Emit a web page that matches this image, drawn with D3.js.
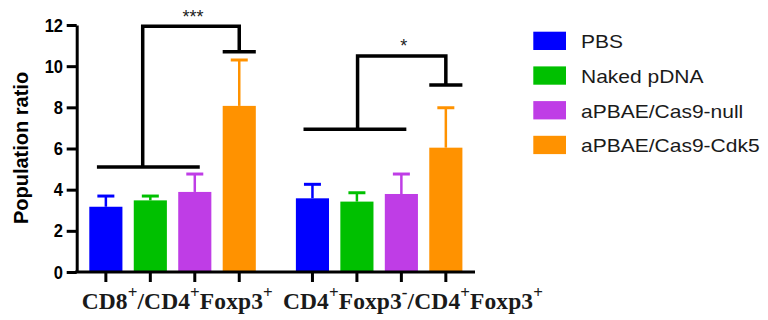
<!DOCTYPE html>
<html>
<head>
<meta charset="utf-8">
<script src="https://cdn.jsdelivr.net/npm/d3@7"></script>
<style>
  body { margin: 0; background: #fff; }
  svg { display: block; }
</style>
</head>
<body>
<svg id="chart" width="768" height="320"></svg>
<script>
// groups on the x axis
const groups = ["g1", "g2"];
// series (legend order)
const series = ["PBS", "Naked pDNA", "aPBAE/Cas9-null", "aPBAE/Cas9-Cdk5"];
const colors = ["#0000ff", "#00c000", "#bf3de6", "#ff9200"];

// means per group, and error (upper) per group
const pbs = [3.17, 3.58];
const pbsErr = [0.52, 0.68];
const naked = [3.48, 3.42];
const nakedErr = [0.21, 0.43];
const cas9Null = [3.89, 3.79];
const cas9NullErr = [0.87, 0.97];
const cas9Cdk5 = [8.07, 6.04];
const cas9Cdk5Err = [2.23, 1.94];

const yTicks = [0, 2, 4, 6, 8, 10, 12];

// significance brackets: lower bar level, top level, drop level
const sigLow = [5.1, 6.93];
const sigTop = [11.94, 10.5];
const sigDrop = [10.7, 9.08];
const sigStars = ["***", "*"];

const means = [pbs, naked, cas9Null, cas9Cdk5];
const errs = [pbsErr, nakedErr, cas9NullErr, cas9Cdk5Err];

const svg = d3.select("#chart");

const x0 = d3.scaleBand().domain(groups).range([76.7, 475]).paddingInner(0.194).paddingOuter(0.061);
const x1 = d3.scaleBand().domain(series).range([0, x0.bandwidth()]).paddingInner(0.255);
const y = d3.scaleLinear().domain([0, 12]).range([272, 25]);

const data = [];
groups.forEach((g, gi) => {
  series.forEach((s, si) => {
    data.push({ g, s, color: colors[si], v: means[si][gi], e: errs[si][gi] });
  });
});

// error bars (behind bars)
const eb = svg.append("g");
data.forEach(d => {
  const cx = x0(d.g) + x1(d.s) + x1.bandwidth() / 2;
  eb.append("line").attr("x1", cx).attr("x2", cx)
    .attr("y1", y(d.v)).attr("y2", y(d.v + d.e))
    .attr("stroke", d.color).attr("stroke-width", 2.5);
  eb.append("line").attr("x1", cx - 8.5).attr("x2", cx + 8.5)
    .attr("y1", y(d.v + d.e)).attr("y2", y(d.v + d.e))
    .attr("stroke", d.color).attr("stroke-width", 3);
});

svg.append("g").selectAll("rect").data(data).join("rect")
  .attr("x", d => x0(d.g) + x1(d.s))
  .attr("y", d => y(d.v))
  .attr("width", x1.bandwidth())
  .attr("height", d => y(0) - y(d.v))
  .attr("fill", d => d.color);

// y axis
const yAxis = svg.append("g").attr("transform", "translate(76.7,0)")
  .call(d3.axisLeft(y).tickValues(yTicks).tickSize(10).tickPadding(3).tickSizeOuter(0));
yAxis.select(".domain").attr("stroke-width", 3);
yAxis.selectAll(".tick line").attr("stroke-width", 3);
yAxis.selectAll(".tick text")
  .attr("font-family", "Liberation Sans, Arial, sans-serif")
  .attr("font-weight", "bold").attr("font-size", 19).attr("fill", "#000")
  .attr("x", -15.7).attr("transform", "scale(0.87,1)");

// x axis
const xAxis = svg.append("g").attr("transform", "translate(0,272)");
xAxis.append("line").attr("x1", 75.2).attr("x2", 475).attr("y1", 0).attr("y2", 0)
  .attr("stroke", "#000").attr("stroke-width", 3);
data.forEach(d => {
  const cx = x0(d.g) + x1(d.s) + x1.bandwidth() / 2;
  xAxis.append("line").attr("x1", cx).attr("x2", cx).attr("y1", 0).attr("y2", 10)
    .attr("stroke", "#000").attr("stroke-width", 3);
});

// x labels with superscripts
const labelParts = [
  [["CD8", 0], ["+", 1], ["/CD4", 0], ["+", 1], ["Foxp3", 0], ["+", 1]],
  [["CD4", 0], ["+", 1], ["Foxp3", 0], ["-", 1], ["/CD4", 0], ["+", 1], ["Foxp3", 0], ["+", 1]]
];
const labelWidth = [191, 260];
groups.forEach((g, gi) => {
  const t = svg.append("text")
    .attr("x", x0(g) - 7.6 + (gi === 1 ? -5.4 : 0))
    .attr("y", 309.3)
    .attr("font-family", "Liberation Serif, Times New Roman, serif")
    .attr("font-weight", "bold").attr("font-size", 23.5).attr("fill", "#1a1a1a")
    .attr("textLength", labelWidth[gi]).attr("lengthAdjust", "spacing");
  let up = false;
  labelParts[gi].forEach(([txt, sup]) => {
    const ts = t.append("tspan").text(txt);
    if (sup && !up) { ts.attr("dy", -11).attr("font-size", 17); up = true; }
    else if (sup) { ts.attr("font-size", 17); }
    else if (up) { ts.attr("dy", 11); up = false; }
  });
});

// y title
svg.append("text")
  .attr("transform", "translate(27.5,148) rotate(-90)")
  .attr("text-anchor", "middle")
  .attr("font-family", "Liberation Sans, Arial, sans-serif")
  .attr("font-weight", "bold").attr("font-size", 20)
  .text("Population ratio");

// significance brackets
const br = svg.append("g").attr("stroke", "#000").attr("stroke-width", 3.5).attr("fill", "none");
const stemFrac = [0.27, 0.52];
groups.forEach((g, gi) => {
  const gx = x0(g);
  const bw = x1.bandwidth();
  const lx1 = gx + x1(series[0]) + bw * 0.23;
  const lx2 = gx + x1(series[2]) + bw * 0.65;
  const sx = gx + x1(series[1]) + bw * stemFrac[gi];
  const rx = gx + x1(series[3]) + bw / 2;
  br.append("line").attr("x1", lx1).attr("x2", lx2).attr("y1", y(sigLow[gi])).attr("y2", y(sigLow[gi]));
  br.append("path").attr("d", `M${sx},${y(sigLow[gi])}V${y(sigTop[gi])}H${rx}V${y(sigDrop[gi])}`);
  br.append("line").attr("x1", gx + x1(series[3])).attr("x2", gx + x1(series[3]) + bw)
    .attr("y1", y(sigDrop[gi])).attr("y2", y(sigDrop[gi]));
  svg.append("text")
    .attr("x", (sx + rx) / 2 + 2).attr("y", y(sigTop[gi]) - 3.5)
    .attr("text-anchor", "middle")
    .attr("font-family", "Liberation Sans, Arial, sans-serif")
    .attr("font-size", 18).attr("fill", "#222")
    .text(sigStars[gi]);
});

// legend
const legend = svg.append("g");
series.forEach((s, i) => {
  const ly = 31.7 + i * 34.7;
  legend.append("rect").attr("x", 533.3).attr("y", ly).attr("width", 32.7).attr("height", 18.3)
    .attr("fill", colors[i]);
  legend.append("text")
    .attr("x", 581 / 1.13).attr("y", ly + 16.6)
    .attr("transform", "scale(1.13,1)")
    .attr("font-family", "Liberation Sans, Arial, sans-serif")
    .attr("font-size", 18.6).attr("fill", "#1a1a1a")
    .text(s);
});
</script>
</body>
</html>
